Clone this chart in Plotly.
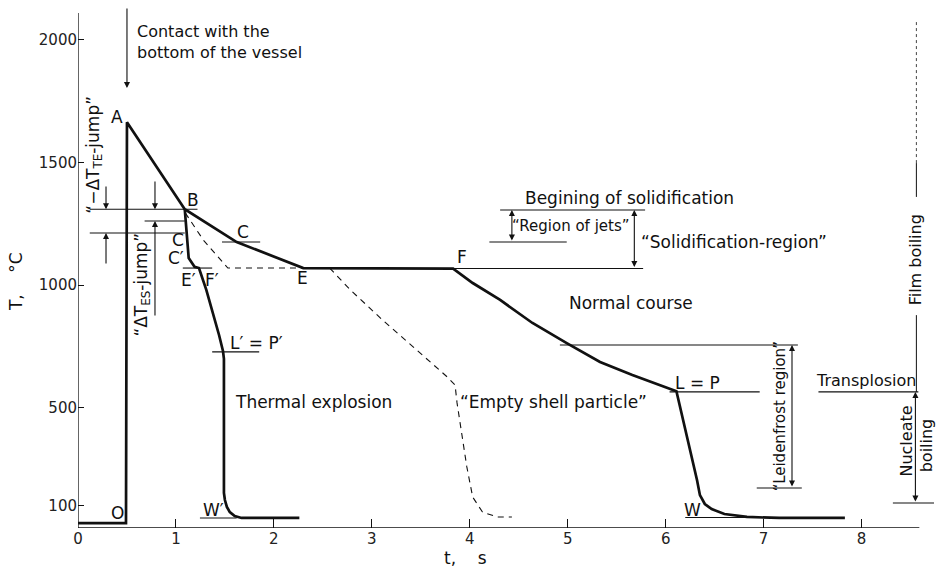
import plotly.graph_objects as go

# ---------------- data ----------------
# Normal course: O -> A -> B -> C -> E -> F -> L=P -> W
normal_t = [0.00, 0.49, 0.50, 1.09, 1.62, 2.30, 3.83, 4.03, 4.31, 4.64, 4.99, 5.33, 5.66, 6.11,
            6.32, 6.35, 6.40, 6.47, 6.60, 6.83, 7.16, 7.83]
normal_T = [30, 30, 1665, 1310, 1176, 1070, 1068, 1009, 940, 846, 764, 687, 634, 568,
            206, 144, 108, 87, 67, 55, 51, 51]

# Thermal explosion: B -> C' -> E'/F' -> L'=P' -> W'
expl_t = [1.09, 1.11, 1.13, 1.19, 1.235, 1.31, 1.38, 1.44, 1.48, 1.49, 1.49, 1.50, 1.52, 1.55, 1.60, 1.67, 2.26]
expl_T = [1310, 1213, 1111, 1075, 1070, 981, 887, 797, 732, 700, 153, 124, 96, 75, 59, 51, 51]

# Dashed branch from B to E
dashB_t = [1.095, 1.28, 1.53, 2.30]
dashB_T = [1295, 1184, 1070, 1070]

# "Empty shell particle" (dashed)
shell_t = [2.57, 2.78, 3.11, 3.46, 3.77, 3.85, 3.87, 3.97, 4.03, 4.13, 4.28, 4.43]
shell_T = [1070, 981, 858, 736, 626, 593, 520, 259, 136, 75, 55, 55]

# Thin horizontal reference lines: (t_start, t_end, T)
ref_t0 = [0.12, 0.68, 0.12, 1.47, 1.07, 3.83, 4.31, 4.20, 4.92, 6.04, 1.37, 1.245, 6.20, 6.93, 7.56, 8.32]
ref_t1 = [1.22, 1.09, 1.09, 1.86, 1.37, 5.77, 5.79, 4.99, 7.35, 6.96, 1.85, 1.62, 6.86, 7.39, 8.58, 8.74]
ref_T = [1310, 1262, 1213, 1176, 1070, 1068, 1307, 1176, 756, 565, 728, 51, 53, 173, 565, 112]

# Film boiling vertical line pieces: (t, T_start, T_end, dash)
film_t = 8.56
film_T0 = [2073, 1498, 878]
film_T1 = [1498, 1360, 565]
film_dash = ["dot", "solid", "solid"]

# Single arrows: (t, T_tail, T_head)
arr_t = [0.286, 0.286, 0.786, 0.786, 0.50]
arr_T0 = [1409, 1082, 1429, 870, 2134]
arr_T1 = [1310, 1213, 1310, 1262, 1804]

# Double arrows: (t, T_low, T_high)
darr_t = [4.43, 5.68, 7.29, 8.55]
darr_T0 = [1176, 1068, 173, 112]
darr_T1 = [1307, 1307, 756, 565]

x_ticks = [0, 1, 2, 3, 4, 5, 6, 7, 8]
y_ticks = [100, 500, 1000, 1500, 2000]

FONT = "DejaVu Sans"
INK = "#111111"

W, H = 937, 568
ML, MR, MT, MB = 78, 1.5, 13, 40

fig = go.Figure()

fig.add_trace(go.Scatter(x=normal_t, y=normal_T, mode="lines",
                         line=dict(color=INK, width=2.7), hoverinfo="skip"))
fig.add_trace(go.Scatter(x=expl_t, y=expl_T, mode="lines",
                         line=dict(color=INK, width=2.7), hoverinfo="skip"))
fig.add_trace(go.Scatter(x=dashB_t, y=dashB_T, mode="lines",
                         line=dict(color=INK, width=1.1, dash="6px,5px"), hoverinfo="skip"))
fig.add_trace(go.Scatter(x=shell_t, y=shell_T, mode="lines",
                         line=dict(color=INK, width=1.1, dash="6px,5px"), hoverinfo="skip"))

shapes = []
for a, b, T in zip(ref_t0, ref_t1, ref_T):
    shapes.append(dict(type="line", xref="x", yref="y", x0=a, x1=b, y0=T, y1=T,
                       line=dict(color=INK, width=1.1)))
for T0, T1, d in zip(film_T0, film_T1, film_dash):
    shapes.append(dict(type="line", xref="x", yref="y", x0=film_t, x1=film_t, y0=T0, y1=T1,
                       line=dict(color="#444444" if d == "dot" else INK, width=1, dash=d)))
# axis lines
shapes.append(dict(type="line", xref="x", yref="y", x0=0, x1=8.59, y0=10, y1=10,
                   line=dict(color=INK, width=1.3)))
shapes.append(dict(type="line", xref="x", yref="y", x0=0, x1=0, y0=10, y1=2110,
                   line=dict(color=INK, width=1.3)))

ann = []
for t, T0, T1 in zip(arr_t, arr_T0, arr_T1):
    ann.append(dict(x=t, y=T1, ax=t, ay=T0, xref="x", yref="y", axref="x", ayref="y",
                    text="", showarrow=True, arrowhead=2, arrowsize=1.1, arrowwidth=1.1,
                    arrowcolor=INK))
for t, T0, T1 in zip(darr_t, darr_T0, darr_T1):
    ann.append(dict(x=t, y=T1, ax=t, ay=T0, xref="x", yref="y", axref="x", ayref="y",
                    text="", showarrow=True, arrowhead=2, startarrowhead=2,
                    arrowside="end+start", arrowsize=1.1, arrowwidth=1.1, arrowcolor=INK))


def label(text, t, T, size=17, angle=0, xanchor="center", align="center"):
    ann.append(dict(x=t, y=T, xref="x", yref="y", text=text, showarrow=False,
                    textangle=angle, xanchor=xanchor, yanchor="middle", align=align,
                    font=dict(family=FONT, size=size, color=INK)))


label("A", 0.40, 1686)
label("B", 1.17, 1347)
label("C", 1.02, 1184)
label("C′", 1.00, 1111)
label("C", 1.68, 1217)
label("E′", 1.13, 1021)
label("F′", 1.37, 1021)
label("E", 2.29, 1029)
label("F", 3.92, 1115)
label("L′ = P′", 1.53, 764, xanchor="left")
label("W′", 1.38, 83)
label("O", 0.40, 71)
label("L = P", 6.33, 601)
label("W", 6.27, 83)
label("Normal course", 5.65, 927)
label("Thermal explosion", 2.40, 524)
label("“Empty shell particle”", 4.85, 524)
label("“Region of jets”", 5.03, 1241, size=15)
label("“Solidification-region”", 6.70, 1176)
label("Begining of solidification", 5.63, 1356)
label("“Leidenfrost region”", 7.17, 467, size=15, angle=-90)
label("Transplosion", 8.05, 613, size=16)
label("Nucleate", 8.46, 365, size=16, angle=-90)
label("boiling", 8.66, 348, size=16, angle=-90)
label("Film boiling", 8.56, 1103, size=16, angle=-90)
label("“−ΔT<sub>TE</sub>-jump”", 0.17, 1531, angle=-90)
label("“ΔT<sub>ES</sub>-jump”", 0.66, 1001, angle=-90)
label("Contact with the<br>bottom of the vessel", 0.58, 1990, size=16, xanchor="left", align="left")

# axis titles (positions given in pixels, converted to paper coordinates)
for txt, px, py, ang in [("T,    °C", 16, 282, -90), ("t,    s", 466, 558, 0)]:
    ann.append(dict(x=(px - ML) / (W - ML - MR), y=(H - MB - py) / (H - MT - MB),
                    xref="paper", yref="paper", text=txt, showarrow=False, textangle=ang,
                    xanchor="center", yanchor="middle",
                    font=dict(family=FONT, size=17, color=INK)))

fig.update_layout(
    width=W, height=H,
    margin=dict(l=ML, r=MR, t=MT, b=MB, autoexpand=False),
    paper_bgcolor="white", plot_bgcolor="white",
    showlegend=False, hovermode=False,
    shapes=shapes, annotations=ann,
    font=dict(family=FONT, size=15, color=INK),
)
fig.update_xaxes(range=[0, 8.75], tickvals=x_ticks, ticks="inside", ticklen=9, tickwidth=1,
                 tickcolor=INK, showgrid=False, zeroline=False, showline=False, automargin=False,
                 tickfont=dict(family=FONT, size=15, color="#222"))
fig.update_yaxes(range=[10, 2110], tickvals=y_ticks, ticks="inside", ticklen=6, tickwidth=1,
                 tickcolor=INK, showgrid=False, zeroline=False, showline=False, automargin=False,
                 tickfont=dict(family=FONT, size=15, color="#222"))

# remove the default page margin so the figure sits at the window's top-left corner
fig.write_html("out.html",
               config={"displayModeBar": False, "staticPlot": True},
               post_script="document.body.style.margin='0px';document.body.style.overflow='hidden';")
